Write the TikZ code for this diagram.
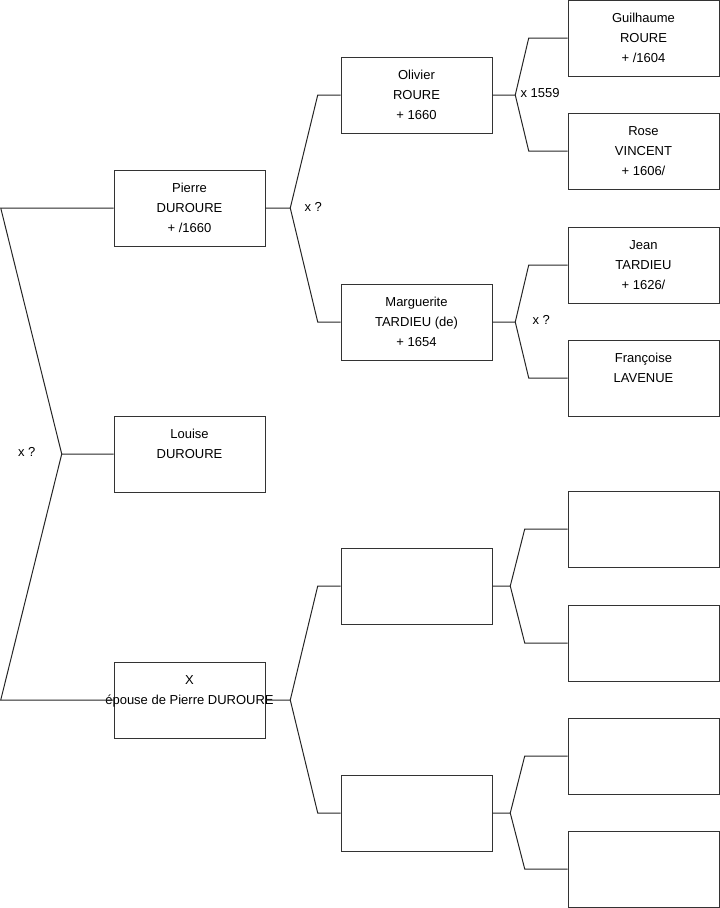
\documentclass[tikz,border=0pt]{standalone}
\usepackage{fontspec}
\setmainfont{Liberation Sans}
\usetikzlibrary{calc}
\tikzstyle{person} = [rectangle, minimum width=113.25pt, minimum height=57pt, inner sep=0pt, align=center, text centered, draw=black!80, font=\fontsize{9.75}{15}\selectfont]
\tikzstyle{link} = [draw=black!85, line width=0.75pt]
\tikzstyle{union} = [anchor=west, inner sep=0pt, font=\fontsize{9.75}{15}\selectfont]

\begin{document}
\begin{tikzpicture}[x=0.75pt, y=-0.75pt, node distance=170.25pt]
\path[use as bounding box] (0,0) rectangle (719,908);

\node (pierre) [person] at (189.5,208) {Pierre\\DUROURE\\+ /1660};
\node (louise) [person] at (189.5,454) {Louise\\DUROURE\\\mbox{}};
\node (x) [person] at (189.5,700) {X\\\makebox[0pt]{épouse de Pierre DUROURE}\\\mbox{}};

\node (olivier) [person, right of=pierre, yshift=84.75pt] {Olivier\\ROURE\\+ 1660};
\node (marguerite) [person, right of=pierre, yshift=-85.5pt] {Marguerite\\TARDIEU (de)\\+ 1654};
\node (pere) [person, right of=x, yshift=85.5pt] {};
\node (mere) [person, right of=x, yshift=-84.75pt] {};

\node (guilhaume) [person, right of=olivier, yshift=42.75pt] {Guilhaume\\ROURE\\+ /1604};
\node (rose) [person, right of=olivier, yshift=-42pt] {Rose\\VINCENT\\+ 1606/};
\node (jean) [person, right of=marguerite, yshift=42.75pt] {Jean\\TARDIEU\\+ 1626/};
\node (francoise) [person, right of=marguerite, yshift=-42pt] {Françoise\\LAVENUE\\\mbox{}};
\node (pp) [person, right of=pere, yshift=42.75pt] {};
\node (pm) [person, right of=pere, yshift=-42.75pt] {};
\node (mp) [person, right of=mere, yshift=42.75pt] {};
\node (mm) [person, right of=mere, yshift=-42pt] {};

% parents of Louise
\draw [link] (pierre.west) -- ++(-113,0) -- ($(louise.west)+(-52,0)$) coordinate (f0) -- (louise.west);
\draw [link] (f0) -- ($(x.west)+(-113,0)$) -- (x.west);
\node (u0) [union] at ($(f0)+(-44,-2)$) {x ?};

% parents of Pierre
\draw [link] (pierre.east) -- ++(25,0) coordinate (f1) -- ($(olivier.west)+(-23,0)$) -- (olivier.west);
\draw [link] (f1) -- ($(marguerite.west)+(-23,0)$) -- (marguerite.west);
\node (u1) [union] at ($(f1)+(14,-1)$) {x ?};

% parents of X
\draw [link] (x.east) -- ++(25,0) coordinate (f2) -- ($(pere.west)+(-23,0)$) -- (pere.west);
\draw [link] (f2) -- ($(mere.west)+(-23,0)$) -- (mere.west);

% grandparents
\draw [link] (olivier.east) -- ++(23,0) coordinate (f3) -- ($(guilhaume.west)+(-39,0)$) -- (guilhaume.west);
\draw [link] (f3) -- ($(rose.west)+(-39,0)$) -- (rose.west);
\node (u3) [union] at ($(f3)+(5,-2)$) {x 1559};

\draw [link] (marguerite.east) -- ++(23,0) coordinate (f4) -- ($(jean.west)+(-39,0)$) -- (jean.west);
\draw [link] (f4) -- ($(francoise.west)+(-39,0)$) -- (francoise.west);
\node (u4) [union] at ($(f4)+(17,-2)$) {x ?};

\draw [link] (pere.east) -- ++(18,0) coordinate (f5) -- ($(pp.west)+(-43,0)$) -- (pp.west);
\draw [link] (f5) -- ($(pm.west)+(-43,0)$) -- (pm.west);

\draw [link] (mere.east) -- ++(18,0) coordinate (f6) -- ($(mp.west)+(-43,0)$) -- (mp.west);
\draw [link] (f6) -- ($(mm.west)+(-43,0)$) -- (mm.west);

\end{tikzpicture}
\end{document}
